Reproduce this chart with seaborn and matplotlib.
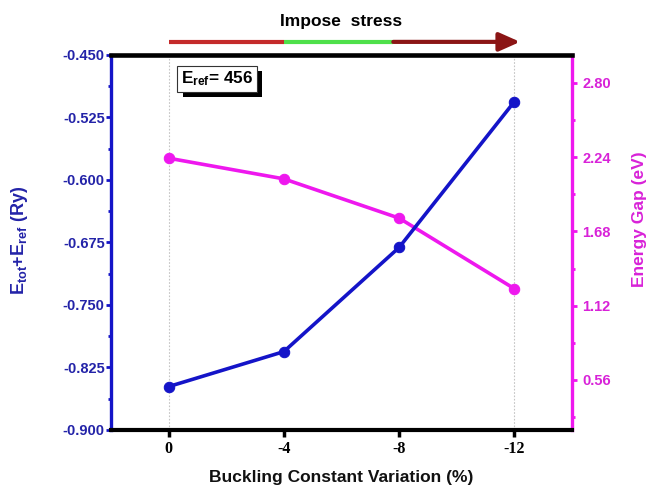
import matplotlib
matplotlib.use("Agg")
import matplotlib.pyplot as plt
import matplotlib.transforms as mtransforms
import matplotlib.patheffects as pe
from matplotlib.ticker import FixedLocator, MultipleLocator
import seaborn as sns

# ---- data ----
strain = [0, -4, -8, -12]
e_total = [-0.848, -0.806, -0.681, -0.506]
energy_gap = [2.232, 2.076, 1.780, 1.248]
x_ticks = [0, -4, -8, -12]
x_tick_labels = ["0", "-4", "-8", "-12"]
left_ticks = [-0.900, -0.825, -0.750, -0.675, -0.600, -0.525, -0.450]
right_ticks = [0.56, 1.12, 1.68, 2.24, 2.80]
arrow_breaks = [0, -4, -7.8, -12.2]
arrow_colors = ["#c42a2a", "#4ee04a", "#8b1515"]

sns.set_theme(style="white")
plt.rcParams['font.family'] = ['Liberation Sans', 'DejaVu Sans']
plt.rcParams['font.weight'] = 'bold'
plt.rcParams['axes.labelweight'] = 'bold'
plt.rcParams['mathtext.fontset'] = 'custom'
plt.rcParams['mathtext.rm'] = 'Liberation Sans:bold'
plt.rcParams['mathtext.bf'] = 'Liberation Sans:bold'
plt.rcParams['mathtext.it'] = 'Liberation Sans:bold'

BLUE = "#1414c8"
BLUE_TXT = "#2323a8"
MAG = "#ee18ee"
MAG_TXT = "#d822d8"

fig = plt.figure(figsize=(6.46, 4.88), dpi=100)
fig.patch.set_facecolor("white")
ax = fig.add_axes([0.1718, 0.119, 0.7136, 0.7683])
ax2 = ax.twinx()

sns.lineplot(x=strain, y=e_total, ax=ax, color=BLUE, lw=2.6, marker='o',
             markersize=7.5, markeredgecolor=BLUE, zorder=5)
sns.lineplot(x=strain, y=energy_gap, ax=ax2, color=MAG, lw=2.6, marker='o',
             markersize=7.5, markeredgecolor=MAG, zorder=4)

ax.set_zorder(ax2.get_zorder() + 1)
ax.patch.set_visible(False)

ax.set_xlim(2, -14)
ax.set_ylim(-0.900, -0.450)
ax2.set_ylim(0.183, 3.01)

for xv in (strain[0], strain[-1]):
    ax2.axvline(xv, color="#c4c4c4", ls=(0, (1.5, 1.5)), lw=0.8, zorder=1)

# ticks
ax.xaxis.set_major_locator(FixedLocator(x_ticks))
ax.set_xticklabels(x_tick_labels, fontfamily='Liberation Serif', fontweight='bold', fontsize=11.5)
ax.yaxis.set_major_locator(FixedLocator(left_ticks))
ax.yaxis.set_minor_locator(MultipleLocator(0.0375))
ax.yaxis.set_major_formatter(matplotlib.ticker.FormatStrFormatter('%.3f'))
ax2.yaxis.set_major_locator(FixedLocator(right_ticks))
ax2.yaxis.set_minor_locator(MultipleLocator(0.28))
ax2.yaxis.set_major_formatter(matplotlib.ticker.FormatStrFormatter('%.2f'))

ax.tick_params(axis='x', which='major', bottom=True, top=False, direction='out',
               length=5, width=2.5, colors='black', pad=3)
ax.tick_params(axis='y', which='major', left=True, right=False, direction='out',
               length=3.5, width=2, color=BLUE, labelcolor=BLUE_TXT, labelsize=10.5, pad=1)
ax.tick_params(axis='y', which='minor', left=True, right=False, direction='out',
               length=2, width=2, color=BLUE)
ax2.tick_params(axis='y', which='major', right=True, left=False, direction='out',
                length=3.5, width=2, color=MAG, labelcolor=MAG_TXT, labelsize=10.5, pad=4)
ax2.tick_params(axis='y', which='minor', right=True, left=False, direction='out',
                length=2, width=2, color=MAG)
for lab in ax.get_yticklabels() + ax2.get_yticklabels():
    lab.set_fontweight('bold')

# spines
for s in ax.spines.values():
    s.set_visible(False)
for s in ax2.spines.values():
    s.set_visible(False)
ax.spines['left'].set_visible(True)
ax.spines['left'].set_color(BLUE)
ax.spines['left'].set_linewidth(2.4)
ax.spines['bottom'].set_visible(True)
ax.spines['bottom'].set_color('black')
ax.spines['bottom'].set_linewidth(3)
ax.spines['top'].set_visible(True)
ax.spines['top'].set_color('black')
ax.spines['top'].set_linewidth(3.3)
ax2.spines['right'].set_visible(True)
ax2.spines['right'].set_color(MAG)
ax2.spines['right'].set_linewidth(2.4)

# labels
ax.set_xlabel("Buckling Constant Variation (%)", fontsize=12.5, color='#111111')
ax.xaxis.set_label_coords(0.5, -0.107)
ax.set_ylabel(r"E$_{tot}$+E$_{ref}$ (Ry)", fontsize=13, color=BLUE_TXT)
ax.yaxis.set_label_coords(-0.176, 0.504)
ax2.set_ylabel("Energy Gap (eV)", fontsize=12.5, color=MAG_TXT)
ax2.yaxis.set_label_coords(1.13, 0.563)

# E_ref box
t = ax.text(0.152, 0.937, r"E$_{ref}$= 456", transform=ax.transAxes, ha='left', va='center',
            fontsize=12.3, color='black', zorder=10,
            bbox=dict(boxstyle='square,pad=0.22', fc='white', ec='#333333', lw=0.8))
t.get_bbox_patch().set_path_effects([
    pe.withSimplePatchShadow(offset=(4, -4), shadow_rgbFace='black', alpha=1.0)])

# Impose stress arrow
trans = mtransforms.blended_transform_factory(ax.transData, ax.transAxes)
ya = 1.035
for i in range(2):
    ax.plot(arrow_breaks[i:i + 2], [ya, ya], transform=trans, color=arrow_colors[i],
            lw=3, solid_capstyle='butt', clip_on=False)
ax.annotate('', xy=(arrow_breaks[3], ya), xytext=(arrow_breaks[2], ya), xycoords=trans,
            textcoords=trans, annotation_clip=False,
            arrowprops=dict(arrowstyle='-|>,head_length=0.9,head_width=0.4',
                            color=arrow_colors[2], lw=3, shrinkA=0, shrinkB=0,
                            mutation_scale=14))
ax.text(-6, 1.09, "Impose  stress", transform=trans, ha='center', va='center',
        fontsize=12.5, color='black')

fig.savefig("out.png", dpi=100, facecolor='white')
